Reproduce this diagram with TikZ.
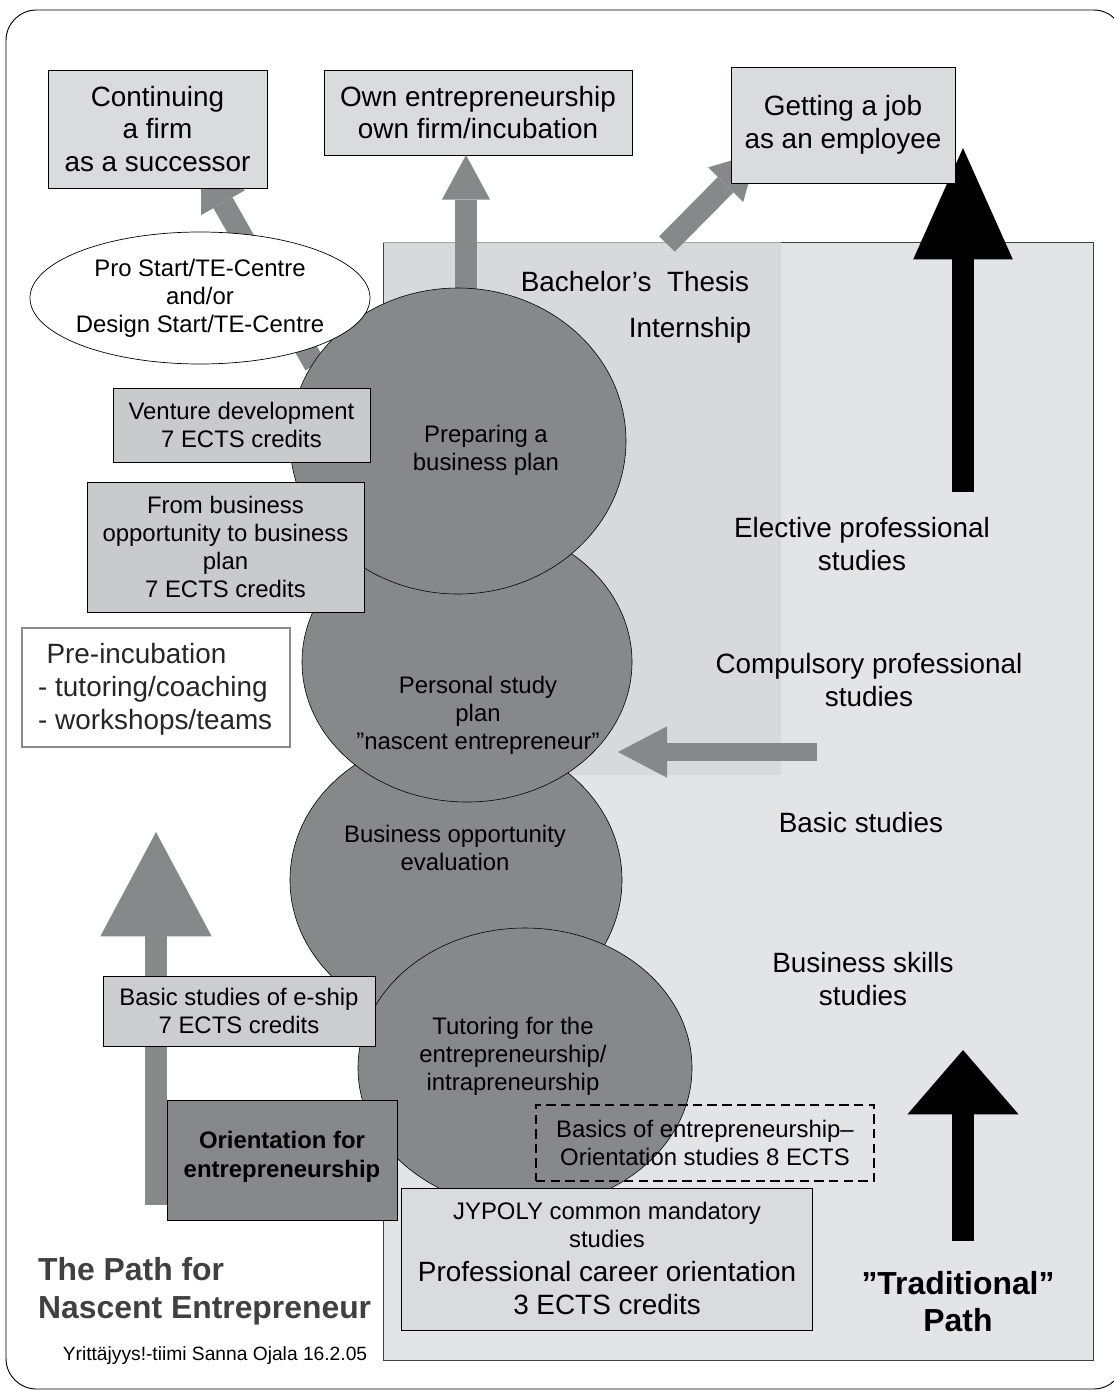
\documentclass[tikz,border=0pt]{standalone}
\usepackage{fontspec}
\setmainfont{Liberation Sans}
\usetikzlibrary{arrows.meta,shapes.geometric,fit}
\definecolor{cgray}{HTML}{87888A}
\definecolor{boxlight}{HTML}{DADBDD}
\definecolor{boxmid}{HTML}{C9CACC}
\definecolor{bglight}{HTML}{E3E4E6}
\definecolor{bgover}{HTML}{D8D9DB}
\definecolor{titlegray}{HTML}{404040}
\begin{document}
\begin{tikzpicture}[x=0.03cm,y=-0.03cm,
  Lt/.style={font=\fontsize{23.8}{28}\selectfont, align=center, inner sep=0pt},
  Mt/.style={font=\fontsize{20.4}{23.8}\selectfont, align=center, inner sep=0pt},
  Mb/.style={font=\fontsize{20.4}{24.6}\selectfont\bfseries, align=center, inner sep=0pt},
  boxL/.style={draw=black, line width=0.8pt, fill=boxlight, inner sep=0pt},
  boxM/.style={draw=black, line width=0.8pt, fill=boxmid, inner sep=0pt},
  circ/.style={ellipse, draw=black, line width=0.5pt, fill=cgray, inner sep=0pt},
  garrow/.style={draw=cgray, line width=18.7pt},
  barrow/.style={draw=black, line width=19.5pt}
]
\useasboundingbox (0,0) rectangle (1114,1392);
\clip (0,0) rectangle (1114,1392);
% outer frame
\draw[line width=0.8pt, rounded corners=26] (6,10) rectangle (1124,1389);
% background panels
\node[draw=black!75, line width=0.8pt, fill=bglight, inner sep=0pt, fit={(383,242) (1093,1360)}] (bg) {};
\node[fill=bgover, inner sep=0pt, fit={(383.6,243) (781,775)}] (over) {};
\draw[black!35, line width=1.2pt] (over.north west) -- (over.north east);

% boxes at the top (needed for arrow targets)
\node[boxL, fit={(48,70) (267,188)}] (cont) {};
\node[boxL, fit={(324,70) (632,155)}] (own) {};

% arrow end coordinates
\coordinate (contS) at (315,365);
\coordinate (contE) at (201,164);
\coordinate (ownS) at (466,305);
\coordinate (ownE) at (466,155);
\coordinate (jobS) at (667,244);
\coordinate (jobE) at (757,153);
\coordinate (leftS) at (817,752);
\coordinate (leftE) at (618,752);
\coordinate (pathS) at (156,1205);
\coordinate (pathE) at (156,832);
\coordinate (tradS) at (963,492);
\coordinate (tradE) at (963,148);
\coordinate (trad2S) at (963,1241);
\coordinate (trad2E) at (963,1050);

% gray arrows
\draw[garrow, -{Triangle[length=38pt,width=43pt,line width=0pt]}] (contS) -- (contE);
\draw[garrow, -{Triangle[length=38pt,width=41pt,line width=0pt]}] (ownS) -- (ownE);
\draw[garrow, -{Triangle[length=38pt,width=42pt,line width=0pt]}] (jobS) -- (jobE);
\draw[garrow, line width=15.3pt, -{Triangle[length=42pt,width=44pt,line width=0pt]}] (leftS) -- (leftE);
\draw[garrow, -{Triangle[length=89pt,width=95pt,line width=0pt]}] (pathS) -- (pathE);
% black arrows
\draw[barrow, -{Triangle[length=95pt,width=85pt,line width=0pt]}] (tradS) -- (tradE);
\draw[barrow, line width=18.7pt, -{Triangle[length=55pt,width=95pt,line width=0pt]}] (trad2S) -- (trad2E);

% job box over the arrow tips
\node[boxL, fit={(731,67) (955,183)}] (job) {};
\node[boxL, fit={(48,70) (267,188)}] (cont2) {};

% circles
\node[circ, minimum width=332*0.03cm, minimum height=290*0.03cm] (c3) at (456,880) {};
\node[circ, minimum width=334*0.03cm, minimum height=280*0.03cm] (c4) at (525,1068) {};
\node[circ, minimum width=330*0.03cm, minimum height=280*0.03cm] (c2) at (467,662) {};
\node[circ, minimum width=336*0.03cm, minimum height=306*0.03cm] (c1) at (458,441) {};

% ellipse
\node[ellipse, draw=black, line width=0.6pt, fill=white, minimum width=340*0.03cm, minimum height=132*0.03cm, inner sep=0pt] (pro) at (200,298) {};

% side boxes
\node[boxM, fit={(113,388) (370,462)}] (vent) {};
\node[boxM, fit={(87,482) (364,612)}] (from) {};
\node[draw=black!45, line width=1.2pt, fill=white, inner sep=0pt, fit={(22,628) (290,747)}] (pre) {};
\node[draw=black, line width=0.8pt, fill=boxmid!80!boxlight, inner sep=0pt, fit={(103,976) (375,1046)}] (eship) {};
\node[draw=black, line width=0.8pt, fill=cgray, inner sep=0pt, fit={(167,1100) (397,1220)}] (orient) {};
\node[boxL, fit={(401,1188) (812,1330)}] (jyp) {};
\node[draw=black, line width=1.3pt, dash pattern=on 8pt off 4.5pt, inner sep=0pt, fit={(536,1105) (874,1181)}] (basics) {};

% texts
\node[Lt] (contT) at (cont2) {Continuing\\a firm\\as a successor};
\node[Lt] (ownT) at (own) {Own entrepreneurship\\own firm/incubation};
\node[Lt] (jobT) at (job) {Getting a job\\as an employee};
\node[Mt] (proT) at (pro) {Pro Start/TE-Centre\\and/or\\Design Start/TE-Centre};
\node[Lt] (thesis) at (635,282) {Bachelor’s~ Thesis};
\node[Lt] (intern) at (690,330) {Internship};
\node[Mt] (ventT) at (vent) {Venture development\\7 ECTS credits};
\node[Mt] (c1T) at (486,450) {Preparing a\\business plan};
\node[Mt] (fromT) at (from) {From business\\opportunity to business\\plan\\7 ECTS credits};
\node[Lt, align=left, anchor=west, text=black!85] (preT) at (38,689) {\hspace*{0.3em}Pre-incubation\\- tutoring/coaching\\- workshops/teams};
\node[Mt] (c2T) at (478,715) {Personal study\\plan\\”nascent entrepreneur”};
\node[Lt] (elect) at (862,544) {Elective professional\\studies};
\node[Lt] (comp) at (869,680) {Compulsory professional\\studies};
\node[Mt] (c3T) at (455,848) {Business opportunity\\evaluation};
\node[Lt] (basicT) at (861,823) {Basic studies};
\node[Lt] (skills) at (863,979) {Business skills\\studies};
\node[Mt] (eshipT) at (eship) {Basic studies of e-ship\\7 ECTS credits};
\node[Mt] (c4T) at (513,1056) {Tutoring for the\\entrepreneurship/\\intrapreneurship};
\node[Mb] (orientT) at (282,1157) {Orientation for\\entrepreneurship};
\node[Mt] (basicsT) at (basics) {Basics of entrepreneurship–\\Orientation studies 8 ECTS};
\node[Mt] (jypT1) at (607,1225) {JYPOLY common mandatory\\studies};
\node[Lt] (jypT2) at (607,1288) {Professional career orientation\\3 ECTS credits};
\node[font=\fontsize{27.2}{31.5}\selectfont\bfseries, align=center, inner sep=0pt] (trad) at (958,1302) {”Traditional”\\Path};
\node[font=\fontsize{27.2}{32}\selectfont\bfseries, text=titlegray, align=left, anchor=west, inner sep=0pt] (title) at (38,1291) {The Path for\\Nascent Entrepreneur};
\node[font=\fontsize{16.4}{19}\selectfont, inner sep=0pt] (credit) at (215,1356) {Yrittäjyys!-tiimi Sanna Ojala 16.2.05};
\end{tikzpicture}
\end{document}
